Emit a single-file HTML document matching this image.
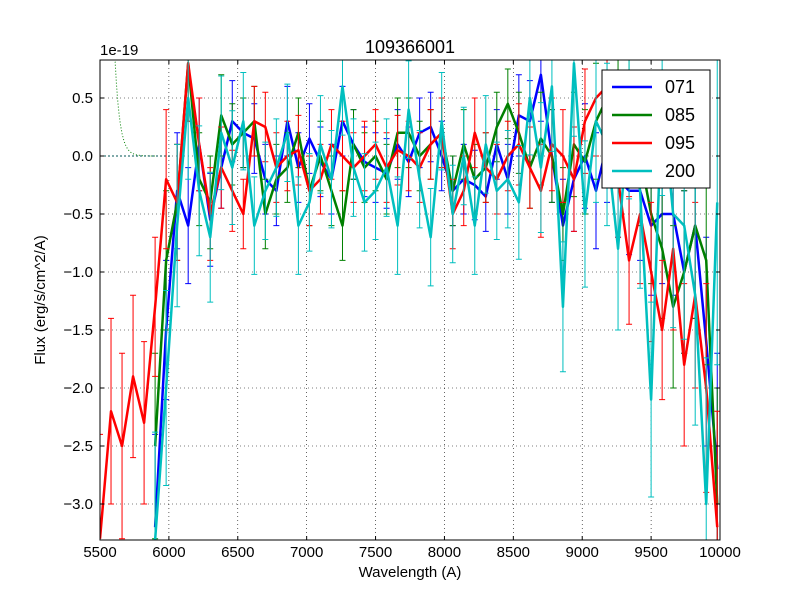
<!DOCTYPE html>
<html><head><meta charset="utf-8"><style>
html,body{margin:0;padding:0;background:#fff;overflow:hidden;width:800px;height:600px}
svg{display:block}
svg text{font-family:"Liberation Sans",sans-serif}
</style></head><body>
<svg id="c" width="800" height="600" viewBox="0 0 800 600" xmlns="http://www.w3.org/2000/svg">
<defs><clipPath id="clip"><rect x="100" y="60" width="620" height="480"/></clipPath></defs>
<rect width="800" height="600" fill="#fff"/>
<g id="grid"></g>
<g id="series" clip-path="url(#clip)"></g>
<rect x="100" y="60" width="620" height="480" fill="none" stroke="#000" stroke-width="1"/>
<g id="ticks"></g>
<text x="410" y="53" text-anchor="middle" font-size="18">109366001</text>
<text x="100" y="55" font-size="15">1e-19</text>
<text x="410" y="577" text-anchor="middle" font-size="15">Wavelength (A)</text>
<text transform="translate(45,300) rotate(-90)" text-anchor="middle" font-size="15">Flux (erg/s/cm^2/A)</text>
<g id="legend"></g>
</svg>
<script>
const xTicks=[5500,6000,6500,7000,7500,8000,8500,9000,9500,10000];
const yTicks=[0.5,0.0,-0.5,-1.0,-1.5,-2.0,-2.5,-3.0];
const yTickLabels=["0.5","0.0","\u22120.5","\u22121.0","\u22121.5","\u22122.0","\u22122.5","\u22123.0"];
const wl=[5900,5980,6060,6140,6220,6300,6380,6460,6540,6620,6700,6780,6860,6940,7020,7100,7180,7260,7340,7420,7500,7580,7660,7740,7820,7900,7980,8060,8140,8220,8300,8380,8460,8540,8620,8700,8780,8860,8940,9020,9100,9180,9260,9340,9420,9500,9580,9660,9740,9820,9900,9980];
const wlRed=[5500,5580,5660,5740,5820,5900,5980,6060,6140,6220,6300,6380,6460,6540,6620,6700,6780,6860,6940,7020,7100,7180,7260,7340,7420,7500,7580,7660,7740,7820,7900,7980,8060,8140,8220,8300,8380,8460,8540,8620,8700,8780,8860,8940,9020,9100,9180,9260,9340,9420,9500,9580,9660,9740,9820,9900,9980];
const s071=[-3.2,-1.5,-0.3,-0.6,0.1,-0.55,-0.1,0.3,0.2,0.15,-0.2,-0.3,0.3,-0.1,0.15,-0.05,-0.2,0.3,0.1,-0.05,-0.1,-0.15,0.1,-0.05,0.2,0.25,0.0,-0.3,-0.2,-0.25,-0.35,0.1,-0.2,0.35,0.3,0.7,0.0,-0.6,-0.2,0.0,-0.3,0.1,-0.2,-0.3,-0.3,-0.6,-0.5,-0.5,-1.0,-0.6,-1.6,-2.7];
const s085=[-2.5,-0.9,-0.4,0.8,-0.2,-0.4,0.35,0.1,0.2,0.3,-0.5,-0.2,-0.1,0.2,-0.3,0.0,-0.3,-0.6,0.1,-0.1,0.0,-0.2,0.2,0.2,0.0,0.1,0.2,-0.3,0.1,-0.2,-0.1,0.25,0.45,0.2,-0.1,0.15,0.0,-0.5,0.1,-0.05,0.3,0.5,0.7,0.3,0.0,-0.5,-0.8,-1.3,-1.0,-0.6,-0.9,-3.0];
const s095=[-3.3,-2.2,-2.5,-1.9,-2.3,-1.3,-0.2,-0.4,0.8,0.1,-0.5,-0.1,-0.3,-0.5,0.3,0.25,-0.1,0.0,0.05,-0.3,-0.2,0.1,0.0,-0.1,0.0,0.1,-0.1,0.05,0.0,-0.1,0.1,0.2,-0.5,-0.3,0.2,-0.1,-0.2,0.0,0.1,-0.1,-0.3,0.1,0.0,-0.2,0.3,0.5,0.6,-0.2,-0.9,-0.5,-1.0,-1.5,-0.8,-1.8,-1.2,-2.0,-3.2];
const s200=[-3.5,-2.0,-0.6,0.5,-0.3,-0.7,0.2,-0.1,0.3,-0.6,-0.3,-0.1,0.2,-0.6,-0.4,0.1,-0.2,0.6,-0.1,-0.4,-0.3,-0.1,-0.6,0.4,-0.2,-0.7,0.3,-0.5,0.0,-0.6,0.1,-0.3,-0.2,-0.4,0.5,-0.1,0.6,-1.3,0.8,-0.5,0.3,0.1,-0.8,0.4,-0.3,-2.1,0.5,-0.5,-0.6,-1.2,-3.0,-0.4];
const err52=[0.8,0.6,0.5,0.5,0.4,0.4,0.35,0.35,0.3,0.3,0.3,0.3,0.3,0.3,0.3,0.3,0.3,0.3,0.3,0.3,0.3,0.3,0.3,0.3,0.3,0.3,0.3,0.3,0.3,0.3,0.3,0.3,0.3,0.35,0.35,0.4,0.4,0.4,0.45,0.45,0.5,0.5,0.5,0.55,0.6,0.6,0.6,0.7,0.7,0.8,0.9,1.0];
const errRed=[0.9,0.8,0.8,0.7,0.7,0.6,0.6,0.5,0.5,0.4,0.4,0.35,0.35,0.3,0.3,0.3,0.3,0.3,0.3,0.3,0.3,0.3,0.3,0.3,0.3,0.3,0.3,0.3,0.3,0.3,0.3,0.3,0.3,0.3,0.3,0.3,0.3,0.3,0.35,0.35,0.4,0.4,0.4,0.45,0.45,0.5,0.5,0.5,0.55,0.6,0.6,0.6,0.7,0.7,0.8,0.9,1.0];
const X=v=>100+(v-5500)*620/4500;
const Y=v=>156-v*116;
const C=y=>Math.max(60,Math.min(540,y));
const NS="http://www.w3.org/2000/svg";
function mk(tag,attrs,parent){const e=document.createElementNS(NS,tag);for(const k in attrs)e.setAttribute(k,attrs[k]);parent.appendChild(e);return e;}
const grid=document.getElementById('grid'),ticks=document.getElementById('ticks'),ser=document.getElementById('series'),leg=document.getElementById('legend');
xTicks.forEach((t,i)=>{const x=X(t);
 const g=mk('line',{x1:x,x2:x,y1:60,y2:540,stroke:'#000','stroke-dasharray':'1,3','stroke-width':0.6},grid);
 
 mk('line',{x1:x,x2:x,y1:540,y2:536,stroke:'#000'},ticks);mk('line',{x1:x,x2:x,y1:60,y2:64,stroke:'#000'},ticks);
 const tx=mk('text',{x:x,y:557,'text-anchor':'middle','font-size':15},ticks);tx.textContent=t;
 });
yTicks.forEach((t,i)=>{const y=Y(t);
 const g=mk('line',{x1:100,x2:720,y1:y,y2:y,stroke:'#000','stroke-dasharray':'1,3','stroke-width':0.6},grid);
 
 mk('line',{x1:100,x2:104,y1:y,y2:y,stroke:'#000'},ticks);mk('line',{x1:720,x2:716,y1:y,y2:y,stroke:'#000'},ticks);
 const tx=mk('text',{x:93,y:y+5,'text-anchor':'end','font-size':15},ticks);tx.textContent=yTickLabels[i];
 });
let d='';for(let w=5550;w<=5900;w+=10){const v=4.5*Math.exp(-(w-5550)/35);d+=(d?'L':'M')+X(w)+','+C(Y(v));}
const mc=mk('path',{d:d,fill:'none',stroke:'green','stroke-dasharray':'1,2','stroke-width':1},ser);

const zl=mk('line',{x1:100,x2:170,y1:Y(0),y2:Y(0),stroke:'#055','stroke-dasharray':'2,2'},ser);

const series=[{n:'071',c:'#0000ff',w:wl,v:s071,e:err52,s:1},{n:'085',c:'#008000',w:wl,v:s085,e:err52,s:1},{n:'095',c:'#ff0000',w:wlRed,v:s095,e:errRed,s:1},{n:'200',c:'#00bfbf',w:wl,v:s200,e:err52,s:1.4}];
series.forEach(S=>{const g=mk('g',{},ser);
 const n=Math.min(S.w.length,S.v.length);let p='';
 for(let i=0;i<n;i++){const x=X(S.w[i]),y=Y(S.v[i]),e=S.e[i]*S.s*116;
  const t=C(y-e),b2=C(y+e);
  let bd=`M${x},${t}L${x},${b2}`;
  if(y-e>=60)bd+=`M${x-3},${t}L${x+3},${t}`;
  if(y+e<=540)bd+=`M${x-3},${b2}L${x+3},${b2}`;
  const b=mk('path',{d:bd,stroke:S.c,'stroke-width':1,fill:'none'},g);
  
  p+=(i?'L':'M')+x+','+C(y);}
 const l=mk('path',{d:p,stroke:S.c,'stroke-width':2.5,fill:'none','stroke-linejoin':'round'},g);
 });
mk('rect',{x:602,y:70,width:108,height:118,fill:'#fff',stroke:'#000'},leg);
series.forEach((S,i)=>{const y=87+i*28;const g=mk('g',{},leg);
 
 mk('line',{x1:612,x2:652,y1:y,y2:y,stroke:S.c,'stroke-width':2.5},g);
 const t=mk('text',{x:665,y:y+6,'font-size':18},g);t.textContent=S.n;});
</script>
</body></html>
